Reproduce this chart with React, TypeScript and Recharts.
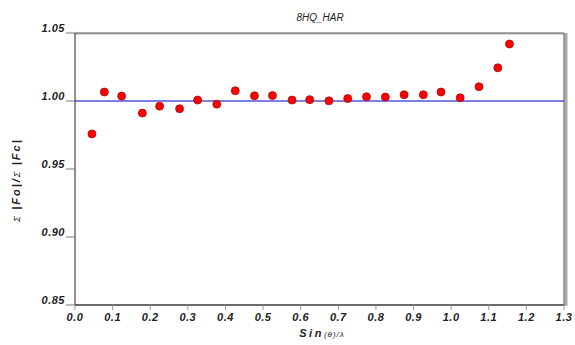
import { ScatterChart, Scatter, XAxis, YAxis, ReferenceLine } from 'recharts';

// resolution shells (sin(theta)/lambda) and the matching sum|Fo| / sum|Fc| ratio
const sinThetaLambda = [
  0.045, 0.078, 0.124, 0.179, 0.225, 0.278, 0.326, 0.377, 0.426, 0.477, 0.525, 0.577,
  0.624, 0.675, 0.725, 0.775, 0.825, 0.875, 0.926, 0.973, 1.024, 1.074, 1.124, 1.155,
];
const foFcRatio = [
  0.9758, 1.0066, 1.0036, 0.9911, 0.9962, 0.9943, 1.0007, 0.9977, 1.0075, 1.0038, 1.004, 1.0007,
  1.001, 1.0001, 1.0018, 1.0031, 1.0029, 1.0046, 1.0046, 1.0066, 1.0024, 1.0105, 1.0244, 1.0419,
];

const xTicks = [0, 0.1, 0.2, 0.3, 0.4, 0.5, 0.6, 0.7, 0.8, 0.9, 1.0, 1.1, 1.2, 1.3];
const yTicks = [0.85, 0.9, 0.95, 1.0, 1.05];

const title = '8HQ_HAR';

const data = sinThetaLambda.map((s, i) => ({ s, r: foFcRatio[i] }));

const FONT = '"Liberation Sans", Arial, sans-serif';

function YTick(props: any) {
  const { x, y, payload } = props;
  return (
    <g>
      <line x1={x - 9} y1={y} x2={x} y2={y} stroke="#777" strokeWidth={1} />
      <text x={x - 10} y={y - 1} textAnchor="end" fontFamily={FONT} fontSize={11}
        fontStyle="italic" fontWeight="bold" fill="#222" letterSpacing={0.5}>
        {payload.value.toFixed(2)}
      </text>
    </g>
  );
}

function XTick(props: any) {
  const { x, y, payload } = props;
  return (
    <g>
      <line x1={x} y1={y} x2={x} y2={y + 5} stroke="#999" strokeWidth={1} />
      <text x={x} y={y + 16} textAnchor="middle" fontFamily={FONT} fontSize={11}
        fontStyle="italic" fontWeight="bold" fill="#222" letterSpacing={0.5}>
        {payload.value.toFixed(1)}
      </text>
    </g>
  );
}

// frame edge with a soft grey drop shadow on the outer side
function FrameEdge(props: any) {
  const { x1, y1, x2, y2 } = props;
  const vertical = Math.abs(x1 - x2) < 0.5;
  const dx = vertical ? 2 : 0;
  const dy = vertical ? 0 : 1;
  return (
    <g>
      <line x1={x1 + dx} y1={y1 + (vertical ? 1 : dy)} x2={x2 + dx} y2={y2 + dy}
        stroke="#aaa" strokeWidth={vertical ? 3 : 1} />
      <line x1={x1} y1={y1} x2={x2} y2={y2} stroke="#555" strokeWidth={1} />
    </g>
  );
}

function Dot(props: any) {
  const { cx, cy } = props;
  return <circle cx={cx} cy={cy} r={4} fill="#ff0000" stroke="#a01010" strokeWidth={0.8} />;
}

export default function App() {
  return (
    <div style={{ position: 'absolute', left: 0, top: 0, width: 575, height: 345, background: '#fff' }}>
      <ScatterChart width={575} height={345} margin={{ top: 33, right: 11, bottom: 0, left: 0 }}>
        <XAxis
          type="number"
          dataKey="s"
          domain={[0, 1.3]}
          ticks={xTicks}
          interval={0}
          allowDataOverflow
          height={40}
          tickSize={0}
          tickMargin={0}
          tickLine={false}
          axisLine={{ stroke: '#222', strokeWidth: 1 }}
          tick={<XTick />}
        />
        <YAxis
          type="number"
          dataKey="r"
          domain={[0.85, 1.05]}
          ticks={yTicks}
          interval={0}
          allowDataOverflow
          width={75}
          tickSize={0}
          tickMargin={0}
          tickLine={false}
          axisLine={{ stroke: '#222', strokeWidth: 1 }}
          tick={<YTick />}
        />
        <ReferenceLine y={1.05} shape={<FrameEdge />} />
        <ReferenceLine x={1.3} shape={<FrameEdge />} />
        <ReferenceLine y={0.85} stroke="#666" strokeWidth={1} />
        <ReferenceLine y={1.0} stroke="#0000c8" strokeWidth={1.2} />
        <Scatter data={data} shape={<Dot />} isAnimationActive={false} />
        <text x={320} y={21} textAnchor="middle" fontFamily={FONT} fontSize={10}
          fontStyle="italic" fill="#222">
          {title}
        </text>
        <text x={322} y={337} textAnchor="middle" fontFamily={FONT} fill="#222" fontStyle="italic">
          <tspan fontSize={11} fontWeight="bold" letterSpacing={2.5}>Sin</tspan>
          <tspan fontSize={8} letterSpacing={1}>(θ)/λ</tspan>
        </text>
        <text x={0} y={0} transform="translate(20,180) rotate(-90)" textAnchor="middle"
          fontFamily={FONT} fill="#222" fontStyle="italic" letterSpacing={2}>
          <tspan fontSize={9}>Σ </tspan>
          <tspan fontSize={11} fontWeight="bold">|Fo|/</tspan>
          <tspan fontSize={9}>Σ </tspan>
          <tspan fontSize={11} fontWeight="bold">|Fc|</tspan>
        </text>
      </ScatterChart>
    </div>
  );
}
